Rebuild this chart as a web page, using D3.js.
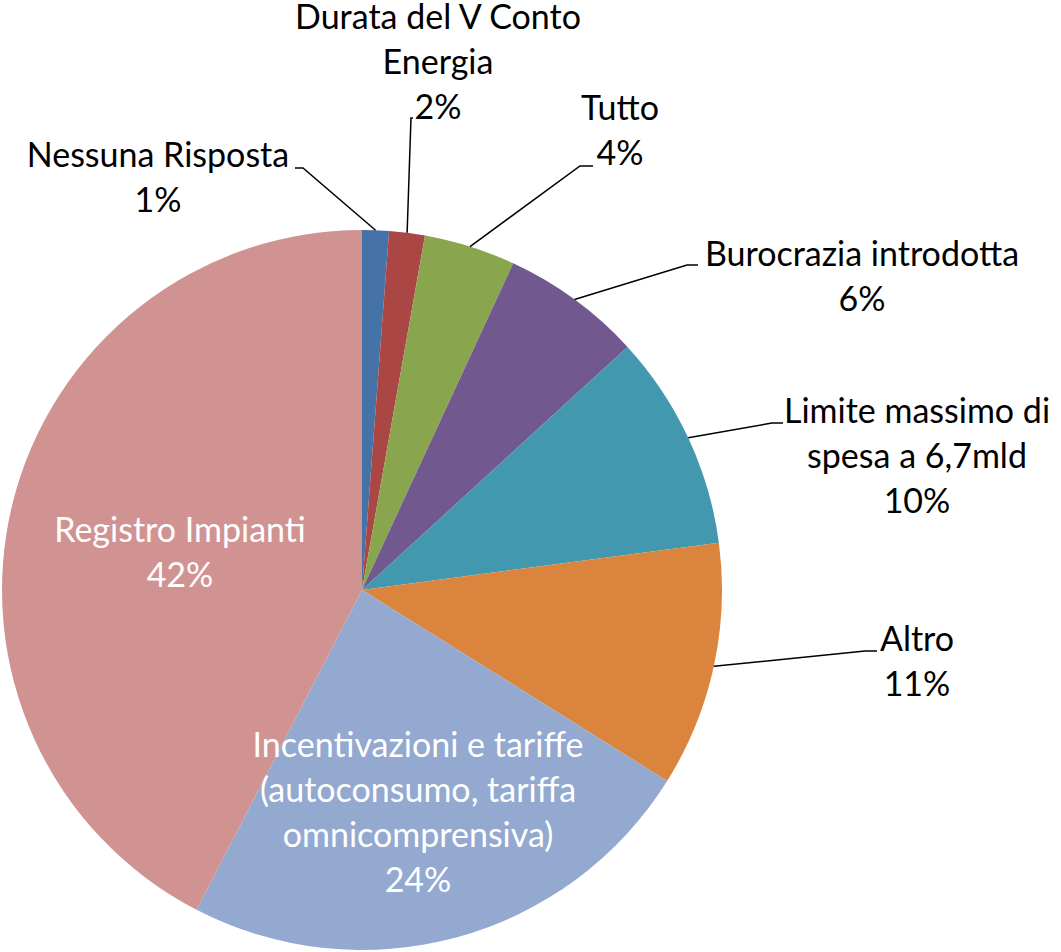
<!DOCTYPE html>
<html>
<head>
<meta charset="utf-8">
<script src="https://cdn.jsdelivr.net/npm/d3@7"></script>
<style>
  body { margin: 0; background: #fff; }
  svg text { font-family: Lato, "Open Sans", sans-serif; }
</style>
</head>
<body>
<div id="chart"></div>
<script>
// categories, clockwise from 12 o'clock
const categories = [
    "Nessuna Risposta",
    "Durata del V Conto Energia",
    "Tutto",
    "Burocrazia introdotta",
    "Limite massimo di spesa a 6,7mld",
    "Altro",
    "Incentivazioni e tariffe (autoconsumo, tariffa omnicomprensiva)",
    "Registro Impianti"
]
// share of answers (%)
const values = [1.2, 1.6, 4.1, 6.3, 9.7, 11.0, 23.7, 42.4]
const colors = ["#4572A7", "#AA4643", "#89A54E", "#71588F", "#4198AF", "#DB843D", "#93A9CF", "#D19392"]

// how each label is broken into lines
const labelLines = [
    ["Nessuna Risposta"],
    ["Durata del V Conto", "Energia"],
    ["Tutto"],
    ["Burocrazia introdotta"],
    ["Limite massimo di", "spesa a 6,7mld"],
    ["Altro"],
    ["Incentivazioni e tariffe", "(autoconsumo, tariffa", "omnicomprensiva)"],
    ["Registro Impianti"]
]

// label placement: text center x, first baseline y, leader elbow & tail end (null = inside label)
const labelLayout = [
    { x: 158, y: 167, elbow: [303, 168], tail: 295 },
    { x: 438, y: 29, elbow: [411, 118], tail: 413 },
    { x: 620, y: 120, elbow: [580, 166], tail: 593 },
    { x: 862, y: 266, elbow: [687, 265], tail: 698 },
    { x: 917, y: 423, elbow: [772, 423], tail: 783 },
    { x: 917, y: 651, elbow: [865, 651], tail: 877 },
    { x: 418, y: 757, elbow: null },
    { x: 180, y: 542, elbow: null }
]

const width = 1061, height = 952
const cx = 362, cy = 590, radius = 360
const lineH = 45

const svg = d3.select("#chart").append("svg")
    .attr("width", width)
    .attr("height", height)

const g = svg.append("g").attr("transform", `translate(${cx},${cy})`)

const pie = d3.pie().sort(null).value(d => d.value)
const arcs = pie(values.map((v, i) => ({ name: categories[i], value: v, i: i })))

const arc = d3.arc().innerRadius(0).outerRadius(radius)

g.selectAll("path.slice")
    .data(arcs)
    .join("path")
    .attr("class", "slice")
    .attr("d", arc)
    .attr("fill", d => colors[d.data.i])

const fmt = d3.format(".0%")

// leader lines, from the rim at the slice's middle angle
const edgeArc = d3.arc().innerRadius(radius).outerRadius(radius)
arcs.forEach(function (d) {
    let lay = labelLayout[d.data.i]
    if (!lay.elbow) return
    let p = edgeArc.centroid(d)
    let pts = [[p[0] + cx, p[1] + cy], lay.elbow, [lay.tail, lay.elbow[1]]]
    svg.append("polyline")
        .attr("points", pts.map(q => q.join(",")).join(" "))
        .attr("fill", "none")
        .attr("stroke", "#000")
        .attr("stroke-width", 1.5)
})

// labels
arcs.forEach(function (d) {
    let lay = labelLayout[d.data.i]
    let lines = labelLines[d.data.i].concat([fmt(d.data.value / 100)])
    let t = svg.append("text")
        .attr("text-anchor", "middle")
        .attr("font-size", 34)
        .attr("fill", lay.elbow ? "#000" : "#fff")
    lines.forEach(function (l, k) {
        t.append("tspan")
            .attr("x", lay.x)
            .attr("y", lay.y + k * lineH)
            .text(l)
    })
})
</script>
</body>
</html>
